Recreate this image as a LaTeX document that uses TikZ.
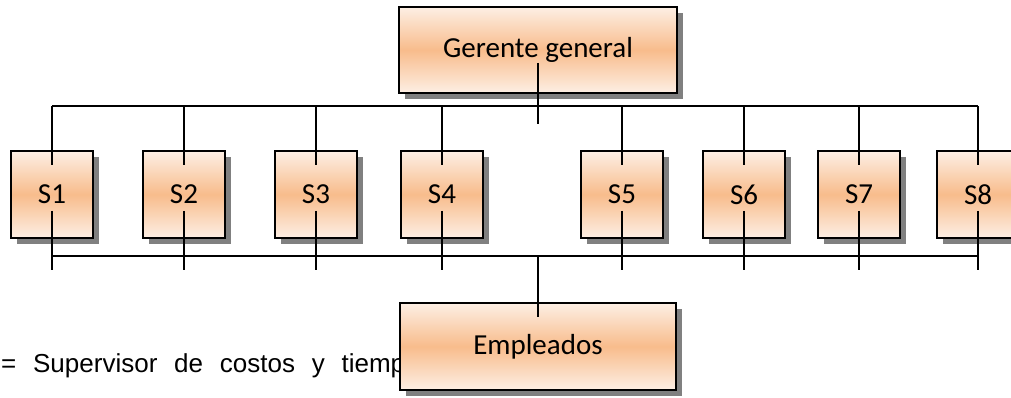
\documentclass[tikz,border=0pt]{standalone}
\usepackage{fontspec}
\setmainfont{Carlito}
\newfontfamily\arialfont{Liberation Sans}
\usetikzlibrary{calc}
\definecolor{boxlight}{HTML}{FDEFE4}
\definecolor{boxmid}{HTML}{F8BC8C}
\definecolor{shadowgray}{HTML}{808080}
\tikzset{
  orgbox/.style={draw=black, line width=1.6pt, inner sep=0pt,
    top color=boxlight, bottom color=boxlight, middle color=boxmid,
    font=\fontsize{29}{31}\selectfont, align=center},
  sbox/.style={orgbox, minimum width=82pt, minimum height=87pt},
  widebox/.style={orgbox, minimum width=278pt, minimum height=86pt},
  link/.style={draw=black, line width=1.4pt},
}
\begin{document}
\begin{tikzpicture}[x=1pt, y=-1pt]
\useasboundingbox (0,0) rectangle (1011,398);
\clip (0,0) rectangle (1011,398);
% legend text (partly hidden by Empleados box)
\node[anchor=base west, inner sep=0pt, font=\arialfont\fontsize{26}{30}\selectfont] (legend) at (1,372)
  {\makebox[404pt][s]{= Supervisor de costos y tiemp}};
% shadows
\foreach \x in {52,184,316,442,622,744,859,978}{
  \fill[shadowgray] (\x-41+6,151+6) rectangle (\x+41+6,238+6);
}
\fill[shadowgray] (399+6,7+6) rectangle (677+6,93+6);
\fill[shadowgray] (400+6,303+6) rectangle (676+6,390+6);
% boxes
\node[widebox] (gg) at (538,50) {Gerente general};
\node[sbox] (s1) at (52,194.5) {S1};
\node[sbox] (s2) at (184,194.5) {S2};
\node[sbox] (s3) at (316,194.5) {S3};
\node[sbox] (s4) at (442,194.5) {S4};
\node[sbox] (s5) at (622,194.5) {S5};
\node[sbox] (s6) at (744,194.5) {S6};
\node[sbox] (s7) at (859,194.5) {S7};
\node[sbox] (s8) at (978,194.5) {S8};
\node[widebox, minimum width=276pt, minimum height=87pt] (emp) at (538,346.5) {Empleados};
% top connectors
\coordinate (ggtop) at ($(gg.center)+(0,13)$);
\coordinate (ggend) at ($(gg.south)+(0,30)$);
\draw[link] (ggtop) -- (ggend);
\coordinate (topbusL) at ($(s1.north)+(0,-44)$);
\coordinate (topbusR) at ($(s8.north)+(0,-44)$);
\draw[link] (topbusL) -- (topbusR);
\foreach \n in {s1,s2,s3,s4,s5,s6,s7,s8}{
  \draw[link] ($(\n.north)+(0,-44)$) -- ($(\n.north)+(0,15)$);
  \draw[link] ($(\n.south)+(0,-28)$) -- ($(\n.south)+(0,31)$);
}
% bottom connectors
\coordinate (botbusL) at ($(s1.south)+(0,17)$);
\coordinate (botbusR) at ($(s8.south)+(0,17)$);
\draw[link] (botbusL) -- (botbusR);
\coordinate (empend) at ($(emp.north)+(0,15)$);
\draw[link] (emp.north |- botbusL) -- (empend);
\end{tikzpicture}
\end{document}
